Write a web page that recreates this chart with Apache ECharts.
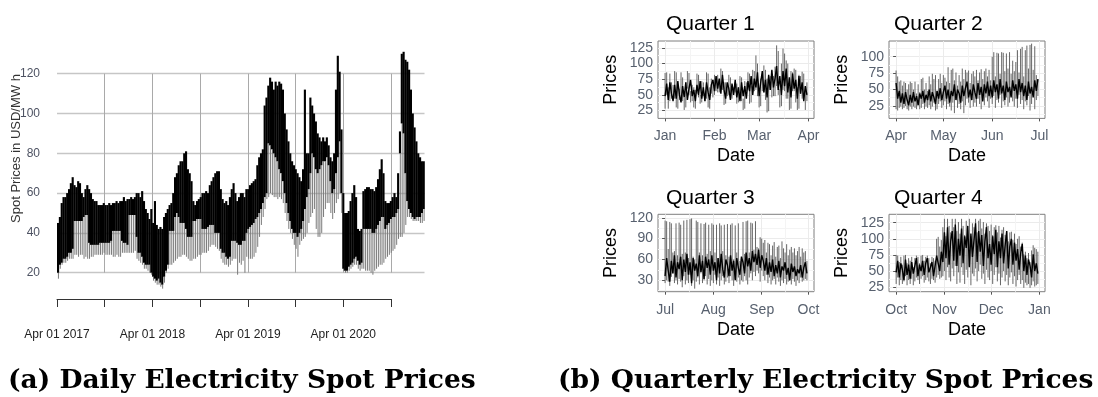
<!DOCTYPE html>
<html>
<head>
<meta charset="utf-8">
<script src="https://cdn.jsdelivr.net/npm/echarts@6/dist/echarts.min.js"></script>
<style>
  html, body { margin: 0; padding: 0; background: #fff; }
  #chart { width: 1098px; height: 397px; }
</style>
</head>
<body>
<div id="chart"></div>
<script>
const DAY = 86400000;
const weekStart = Date.UTC(2017, 3, 1);

// weekly spot prices, Apr 2017 - Feb 2021: weekday high, weekday low, weekend low
const weekHigh = [
  45, 48, 55, 58, 58, 60, 62, 65, 68, 64,
  63, 66, 65, 60, 58, 62, 64, 62, 60, 57,
  56, 56, 54, 54, 54, 55, 54, 54, 55, 54,
  55, 55, 56, 55, 56, 56, 58, 56, 57, 57,
  58, 57, 58, 60, 60, 58, 61, 56, 52, 50,
  47, 52, 45, 56, 44, 42, 43, 42, 48, 50,
  52, 54, 55, 60, 68, 70, 74, 76, 76, 80,
  81, 72, 70, 66, 56, 54, 56, 57, 58, 60,
  60, 61, 60, 64, 66, 68, 70, 71, 71, 62,
  57, 55, 56, 54, 58, 62, 65, 60, 56, 58,
  60, 60, 58, 62, 62, 64, 65, 66, 67, 74,
  78, 80, 82, 104, 108, 114, 118, 116, 112, 116,
  114, 116, 115, 112, 100, 92, 86, 80, 76, 74,
  72, 70, 68, 66, 72, 112, 80, 80, 108, 104,
  100, 96, 90, 88, 86, 88, 86, 88, 84, 78,
  76, 80, 112, 129, 121, 92, 60, 50, 50, 51,
  56, 60, 64, 58, 42, 41, 42, 61, 62, 63,
  63, 62, 62, 61, 63, 67, 72, 77, 70, 56,
  55, 55, 56, 58, 60, 58, 70, 91, 130, 131,
  127, 126, 122, 112, 100, 93, 86, 80, 78, 76,
  76
];
const weekLow = [
  20, 24, 25, 27, 27, 28, 30, 30, 32, 46,
  46, 46, 46, 46, 48, 49, 49, 35, 34, 34,
  34, 34, 34, 35, 35, 35, 35, 35, 35, 36,
  41, 41, 41, 41, 41, 36, 35, 35, 34, 49,
  49, 49, 49, 38, 30, 30, 28, 25, 24, 24,
  24, 20, 18, 17, 16, 17, 15, 14, 18, 21,
  24, 41, 41, 41, 48, 50, 48, 45, 45, 45,
  42, 38, 38, 38, 46, 46, 47, 47, 47, 42,
  42, 42, 43, 44, 44, 44, 40, 40, 40, 32,
  30, 30, 28, 27, 28, 36, 36, 36, 35, 34,
  34, 36, 36, 40, 42, 43, 44, 45, 47, 48,
  50, 52, 55, 58, 60, 85, 84, 82, 80, 78,
  76, 72, 70, 66, 60, 55, 50, 46, 42, 40,
  40, 38, 40, 42, 46, 52, 58, 62, 70, 80,
  78, 72, 70, 72, 74, 76, 76, 78, 74, 66,
  60, 62, 70, 78, 86, 60, 22, 21, 21, 23,
  24, 25, 27, 28, 26, 24, 25, 42, 42, 42,
  42, 42, 40, 40, 42, 44, 46, 48, 48, 42,
  44, 45, 47, 48, 48, 50, 52, 80, 95, 90,
  70, 56, 52, 50, 48, 47, 48, 48, 48, 50,
  52
];
const weekendLow = [
  17, 22, 24, 25, 25, 26, 27, 27, 27, 29,
  29, 28, 29, 29, 27, 28, 27, 27, 28, 28,
  29, 29, 29, 29, 29, 30, 29, 29, 29, 29,
  28, 28, 29, 28, 28, 30, 30, 30, 30, 30,
  30, 30, 31, 27, 26, 25, 24, 22, 22, 21,
  20, 19, 16, 15, 14, 14, 13, 12, 15, 20,
  22, 24, 24, 25, 26, 27, 28, 28, 29, 29,
  28, 27, 26, 26, 27, 27, 28, 29, 29, 30,
  30, 30, 31, 33, 34, 34, 33, 32, 31, 27,
  25, 24, 24, 23, 24, 26, 27, 27, 19, 25,
  24, 26, 20, 28, 27, 27, 27, 28, 30, 33,
  38, 44, 48, 52, 57, 58, 60, 59, 58, 58,
  57, 58, 57, 55, 50, 46, 42, 40, 37, 34,
  32, 28, 34, 36, 37, 38, 40, 45, 48, 50,
  52, 42, 38, 38, 40, 48, 52, 55, 55, 50,
  47, 50, 55, 57, 60, 50, 21, 20, 20, 21,
  22, 23, 24, 24, 22, 21, 22, 22, 21, 21,
  21, 20, 19, 21, 22, 23, 24, 24, 25, 27,
  28, 29, 30, 31, 32, 34, 37, 38, 38, 40,
  44, 48, 48, 47, 46, 46, 46, 46, 45, 45,
  46
];
const dailyTickLabels = ['Apr 01 2017', '', 'Apr 01 2018', '', 'Apr 01 2019', '', 'Apr 01 2020', ''];

// quarterly panels: one value per day of the quarter (typical, high, low)
const q1Core = [48, 68, 42, 70, 52, 40, 66, 44, 72, 50, 38, 64, 46, 70, 42, 60, 74, 48, 58, 40, 66, 50, 72, 44, 62, 40, 70, 54, 42, 66, 74, 56, 80, 60, 76, 52, 82, 58, 44, 70, 60, 42, 68, 50, 74, 46, 62, 40, 70, 48, 64, 44, 72, 56, 80, 50, 76, 62, 86, 48, 70, 88, 54, 74, 46, 82, 58, 90, 62, 76, 96, 58, 80, 50, 88, 64, 92, 54, 78, 46, 84, 60, 74, 44, 80, 52, 70, 40, 64, 50];
const q1High = [85, 86, 62, 84, 70, 66, 88, 86, 64, 60, 86, 78, 45, 70, 88, 85, 56, 66, 62, 58, 84, 82, 50, 72, 70, 52, 86, 84, 62, 76, 74, 82, 80, 82, 74, 92, 88, 70, 70, 68, 82, 78, 64, 62, 70, 68, 62, 80, 78, 44, 72, 70, 86, 84, 64, 90, 88, 113, 100, 56, 76, 80, 97, 90, 76, 78, 80, 84, 80, 95, 129, 120, 60, 100, 124, 116, 105, 100, 66, 88, 86, 92, 90, 62, 82, 80, 87, 84, 58, 70];
const q1Low = [28, 50, 28, 40, 44, 42, 44, 30, 28, 42, 45, 40, 26, 30, 60, 50, 38, 40, 30, 28, 52, 46, 36, 38, 48, 40, 44, 30, 28, 52, 46, 50, 56, 54, 54, 60, 58, 34, 36, 48, 50, 44, 44, 52, 54, 36, 38, 46, 40, 26, 28, 56, 58, 36, 38, 60, 56, 58, 48, 30, 32, 56, 54, 42, 22, 24, 58, 46, 48, 48, 64, 50, 30, 32, 58, 56, 44, 44, 26, 28, 56, 56, 38, 26, 28, 52, 44, 42, 26, 40];

const q2Core = [60, 36, 48, 30, 44, 28, 46, 34, 26, 42, 30, 46, 32, 40, 26, 44, 36, 48, 30, 42, 34, 50, 32, 46, 38, 28, 48, 36, 52, 34, 46, 56, 36, 50, 30, 48, 40, 58, 34, 50, 44, 30, 56, 40, 52, 62, 38, 50, 34, 58, 46, 36, 60, 42, 54, 32, 58, 44, 62, 40, 56, 38, 64, 46, 58, 36, 66, 44, 56, 34, 62, 46, 54, 38, 64, 48, 58, 36, 66, 46, 60, 40, 56, 34, 62, 44, 54, 38, 64, 48, 66];
const q2High = [79, 70, 62, 64, 56, 62, 60, 50, 58, 62, 60, 50, 62, 44, 58, 46, 66, 68, 50, 60, 48, 70, 58, 74, 66, 72, 48, 66, 74, 60, 72, 68, 62, 84, 60, 80, 82, 64, 76, 56, 72, 62, 82, 66, 80, 76, 79, 60, 74, 78, 70, 80, 64, 76, 81, 66, 78, 82, 70, 80, 64, 100, 107, 70, 106, 105, 74, 107, 106, 78, 105, 82, 107, 74, 94, 78, 92, 110, 76, 112, 115, 70, 110, 117, 82, 118, 120, 80, 116, 72, 66];
const q2Low = [20, 18, 22, 24, 20, 22, 25, 20, 18, 24, 20, 24, 22, 20, 26, 20, 22, 28, 20, 24, 22, 26, 20, 24, 30, 18, 20, 28, 32, 22, 26, 32, 20, 28, 24, 18, 30, 14, 34, 22, 28, 20, 32, 14, 26, 36, 30, 22, 34, 24, 30, 24, 36, 28, 20, 34, 26, 38, 32, 22, 36, 28, 40, 22, 34, 30, 42, 22, 32, 26, 38, 24, 30, 40, 32, 24, 36, 22, 42, 28, 34, 20, 32, 26, 40, 18, 28, 42, 20, 34, 40];

const q3Core = [36, 62, 44, 28, 58, 40, 66, 34, 56, 46, 64, 30, 60, 42, 68, 38, 56, 26, 62, 44, 54, 36, 66, 42, 58, 32, 64, 48, 60, 38, 66, 44, 56, 30, 62, 40, 68, 46, 34, 60, 52, 36, 66, 44, 58, 30, 62, 48, 38, 64, 56, 40, 70, 50, 62, 44, 72, 56, 68, 52, 74, 48, 66, 58, 44, 62, 38, 56, 42, 60, 36, 52, 40, 58, 34, 50, 44, 56, 38, 48, 30, 54, 42, 50, 36, 46, 40, 52, 34, 48, 56, 40];
const q3High = [116, 115, 75, 114, 112, 70, 72, 112, 66, 113, 110, 68, 116, 70, 117, 62, 118, 119, 64, 60, 116, 114, 70, 112, 66, 111, 113, 68, 110, 72, 112, 110, 70, 110, 62, 112, 109, 72, 110, 66, 111, 64, 110, 112, 60, 109, 70, 112, 58, 62, 114, 68, 115, 116, 70, 113, 112, 74, 115, 78, 76, 92, 90, 84, 88, 70, 84, 82, 66, 80, 85, 64, 78, 80, 62, 86, 76, 70, 82, 66, 74, 78, 70, 76, 66, 72, 78, 64, 76, 70, 72, 58];
const q3Low = [26, 30, 28, 22, 35, 40, 26, 30, 24, 32, 28, 20, 36, 24, 30, 26, 38, 22, 30, 18, 28, 34, 24, 40, 26, 30, 36, 24, 32, 22, 30, 26, 38, 24, 34, 22, 30, 36, 24, 28, 34, 26, 36, 30, 22, 32, 28, 34, 24, 30, 28, 36, 30, 24, 34, 40, 30, 42, 36, 44, 40, 28, 44, 36, 30, 38, 26, 34, 24, 30, 32, 24, 34, 28, 22, 30, 26, 32, 24, 28, 30, 24, 32, 28, 22, 30, 26, 34, 28, 30, 32, 30];

const q4Core = [48, 66, 40, 62, 52, 36, 68, 44, 60, 38, 64, 46, 58, 70, 42, 60, 50, 66, 44, 62, 70, 48, 56, 64, 42, 58, 74, 62, 50, 80, 64, 110, 70, 118, 60, 96, 112, 66, 122, 58, 100, 74, 116, 62, 104, 86, 120, 56, 108, 72, 98, 124, 64, 112, 80, 106, 58, 96, 118, 70, 92, 60, 104, 76, 114, 56, 96, 70, 108, 62, 90, 112, 54, 88, 100, 60, 94, 66, 84, 52, 78, 92, 50, 74, 44, 68, 58, 40, 76, 50, 62, 46];
const q4High = [75, 74, 64, 72, 60, 74, 75, 62, 70, 66, 72, 56, 70, 74, 72, 62, 74, 75, 66, 72, 74, 70, 62, 72, 70, 66, 100, 103, 88, 98, 118, 131, 104, 131, 120, 110, 131, 118, 131, 112, 126, 108, 131, 120, 106, 128, 114, 131, 104, 124, 118, 131, 110, 128, 131, 116, 126, 108, 124, 120, 112, 122, 106, 118, 121, 110, 120, 102, 114, 118, 106, 112, 96, 110, 111, 98, 108, 92, 100, 104, 88, 94, 76, 80, 70, 78, 64, 82, 90, 86, 84, 80];
const q4Low = [30, 40, 28, 36, 30, 34, 42, 28, 36, 30, 38, 28, 34, 40, 36, 30, 38, 42, 32, 36, 40, 34, 30, 38, 36, 32, 40, 44, 38, 40, 42, 50, 36, 56, 40, 34, 54, 42, 58, 30, 48, 32, 56, 44, 30, 52, 40, 58, 28, 46, 42, 54, 34, 50, 60, 38, 46, 30, 52, 40, 36, 50, 30, 44, 56, 34, 46, 28, 40, 50, 34, 44, 28, 40, 48, 30, 42, 26, 36, 44, 30, 36, 24, 32, 28, 30, 24, 28, 34, 26, 28, 30];

const panels = [
  { title: 'Quarter 1', titleLeft: 661, titleTop: 9, left: 658, top: 41, xMin: -4.45, xMax: 93.45, yMin: 12.5, yMax: 136,
    months: ['Jan', 'Feb', 'Mar', 'Apr'], monthDays: [0, 31, 59, 90], minorDays: [15.5, 45, 74.5],
    yMajor: [25, 50, 75, 100, 125], yMinor: [37.5, 62.5, 87.5, 112.5], core: q1Core, high: q1High, low: q1Low },
  { title: 'Quarter 2', titleLeft: 889, titleTop: 9, left: 889, top: 41, xMin: -4.5, xMax: 94.5, yMin: 6, yMax: 124,
    months: ['Apr', 'May', 'Jun', 'Jul'], monthDays: [0, 30, 61, 91], minorDays: [15, 45.5, 76],
    yMajor: [25, 50, 75, 100], yMinor: [12.5, 37.5, 62.5, 87.5, 112.5], core: q2Core, high: q2High, low: q2Low },
  { title: 'Quarter 3', titleLeft: 661, titleTop: 183, left: 658, top: 214.3, xMin: -4.55, xMax: 95.55, yMin: 13.6, yMax: 125,
    months: ['Jul', 'Aug', 'Sep', 'Oct'], monthDays: [0, 31, 62, 92], minorDays: [15.5, 46.5, 77],
    yMajor: [30, 60, 90, 120], yMinor: [15, 45, 75, 105], core: q3Core, high: q3High, low: q3Low },
  { title: 'Quarter 4', titleLeft: 889, titleTop: 183, left: 889, top: 214.3, xMin: -4.6, xMax: 95.6, yMin: 18, yMax: 138,
    months: ['Oct', 'Nov', 'Dec', 'Jan'], monthDays: [0, 31, 61, 92], minorDays: [15.5, 46, 76.5],
    yMajor: [25, 50, 75, 100, 125], yMinor: [37.5, 62.5, 87.5, 112.5], core: q4Core, high: q4High, low: q4Low }
];

const sans = 'Liberation Sans';
const tickGray = '#57606e';

function renderWeek(params, api) {
  const t = api.value(0);
  const topLeft = api.coord([t, api.value(1)]);
  const bottomRight = api.coord([t + 7 * DAY, api.value(2)]);
  const wkTop = api.coord([t + 5.5 * DAY, api.value(2)]);
  const wkBottom = api.coord([t + 5.5 * DAY, api.value(3)]);
  return {
    type: 'group',
    children: [
      { type: 'line', shape: { x1: wkTop[0], y1: wkTop[1], x2: wkBottom[0], y2: wkBottom[1] },
        style: { stroke: '#7a7a7a', lineWidth: 1 } },
      { type: 'rect', shape: { x: topLeft[0], y: topLeft[1], width: bottomRight[0] - topLeft[0] + 0.3, height: bottomRight[1] - topLeft[1] },
        style: { fill: '#000' } }
    ]
  };
}

function renderRange(params, api) {
  const a = api.coord([api.value(0), api.value(1)]);
  const b = api.coord([api.value(0), api.value(2)]);
  return { type: 'line', shape: { x1: a[0], y1: a[1], x2: b[0], y2: b[1] }, style: { stroke: '#666', lineWidth: 1 } };
}

const weekEnd = weekStart + 1407 * DAY;
const hidden = { show: false };
const captionStyle = { fontFamily: 'DejaVu Serif', fontWeight: 'bold', fontSize: 26.5, color: '#000' };

const grid = [
  { left: 57, top: 73.7, width: 367.5, height: 199 },   // grid lines
  { left: 57, top: 49.8, width: 367.5, height: 248.8 }, // data
  { left: 57, top: 290, width: 334, height: 9 },        // date axis
  { left: 57, top: 72, width: 10, height: 153 }         // y title
];
const xAxis = [
  { gridIndex: 0, type: 'value', min: weekStart, max: weekEnd, interval: 182.625 * DAY,
    axisLine: hidden, axisTick: hidden, axisLabel: hidden,
    splitLine: { show: true, showMinLine: false, showMaxLine: false, lineStyle: { color: '#a9a9a9', width: 1 } } },
  { gridIndex: 1, type: 'value', min: weekStart, max: weekEnd, show: false },
  { gridIndex: 2, type: 'category', data: dailyTickLabels, boundaryGap: false,
    axisLine: { lineStyle: { color: '#333', width: 1 } },
    axisTick: { interval: 0, length: 8, lineStyle: { color: '#333' } },
    axisLabel: { interval: 0, margin: 30, fontFamily: sans, fontSize: 12, color: '#222' },
    splitLine: hidden },
  { gridIndex: 3, type: 'value', show: false }
];
const yAxis = [
  { gridIndex: 0, type: 'value', min: 20, max: 120, interval: 20,
    axisLine: hidden, axisTick: hidden,
    axisLabel: { margin: 17, fontFamily: sans, fontSize: 12, color: '#4d5262' },
    splitLine: { lineStyle: { color: '#c6c6c6', width: 1.3 } } },
  { gridIndex: 1, type: 'value', min: 7, max: 132, show: false },
  { gridIndex: 2, type: 'value', show: false },
  { gridIndex: 3, type: 'value', name: 'Spot Prices in USD/MW h', nameLocation: 'middle', nameGap: 34, nameRotate: 90,
    nameTextStyle: { fontFamily: sans, fontSize: 13, color: '#333' },
    axisLine: hidden, axisTick: hidden, axisLabel: hidden, splitLine: hidden }
];
const series = [
  { type: 'custom', xAxisIndex: 1, yAxisIndex: 1, renderItem: renderWeek, clip: false,
    data: weekHigh.map((h, i) => [weekStart + i * 7 * DAY, h, weekLow[i], weekendLow[i]]) }
];
const title = [
  { text: '(a) Daily Electricity Spot Prices', left: 3, top: 363, textStyle: captionStyle },
  { text: '(b) Quarterly Electricity Spot Prices', left: 553, top: 363, textStyle: captionStyle }
];

panels.forEach((p, i) => {
  const g = 4 + i;
  const xa = 4 + 2 * i;
  const ya = 4 + 2 * i;
  grid.push({ left: p.left, top: p.top, width: 156, height: 77.4, show: true, borderColor: '#7f7f7f', borderWidth: 1, backgroundColor: '#fff' });
  title.push({ text: p.title, left: p.titleLeft, top: p.titleTop, textStyle: { fontFamily: sans, fontWeight: 'normal', fontSize: 21, color: '#000' } });
  xAxis.push(
    { gridIndex: g, type: 'value', min: p.xMin, max: p.xMax, name: 'Date', nameLocation: 'middle', nameGap: 29,
      nameTextStyle: { fontFamily: sans, fontSize: 18, color: '#000' },
      axisLine: hidden,
      axisTick: { show: true, length: 3, customValues: p.monthDays, lineStyle: { color: '#555' } },
      axisLabel: { margin: 11, customValues: p.monthDays, fontFamily: sans, fontSize: 14, color: tickGray,
        formatter: (v) => p.months[p.monthDays.indexOf(v)] },
      splitLine: { show: true, customValues: p.monthDays, lineStyle: { color: '#ebebeb', width: 1 } } },
    { gridIndex: g, type: 'value', min: p.xMin, max: p.xMax, position: 'bottom',
      axisLine: hidden, axisTick: { show: false, customValues: p.minorDays }, axisLabel: hidden,
      splitLine: { show: true, customValues: p.minorDays, lineStyle: { color: '#f4f4f4', width: 1 } } }
  );
  yAxis.push(
    { gridIndex: g, type: 'value', min: p.yMin, max: p.yMax, name: 'Prices', nameLocation: 'middle', nameGap: 38,
      nameTextStyle: { fontFamily: sans, fontSize: 18, color: '#000' },
      axisLine: hidden,
      axisTick: { show: true, length: 3, customValues: p.yMajor, lineStyle: { color: '#555' } },
      axisLabel: { margin: 5, customValues: p.yMajor, fontFamily: sans, fontSize: 14, color: tickGray },
      splitLine: { show: true, customValues: p.yMajor, lineStyle: { color: '#ebebeb', width: 1 } } },
    { gridIndex: g, type: 'value', min: p.yMin, max: p.yMax, position: 'left',
      axisLine: hidden, axisTick: { show: false, customValues: p.yMinor }, axisLabel: hidden,
      splitLine: { show: true, customValues: p.yMinor, lineStyle: { color: '#f4f4f4', width: 1 } } }
  );
  series.push(
    { type: 'custom', xAxisIndex: xa, yAxisIndex: ya, renderItem: renderRange,
      data: p.core.map((v, d) => [d, p.low[d], p.high[d]]) },
    { type: 'line', xAxisIndex: xa, yAxisIndex: ya, showSymbol: false, symbol: 'none',
      lineStyle: { color: '#000', width: 1.4 },
      data: p.core.map((v, d) => [d, v]) }
  );
});

const chart = echarts.init(document.getElementById('chart'));
chart.setOption({ animation: false, grid, xAxis, yAxis, series, title });
</script>
</body>
</html>
